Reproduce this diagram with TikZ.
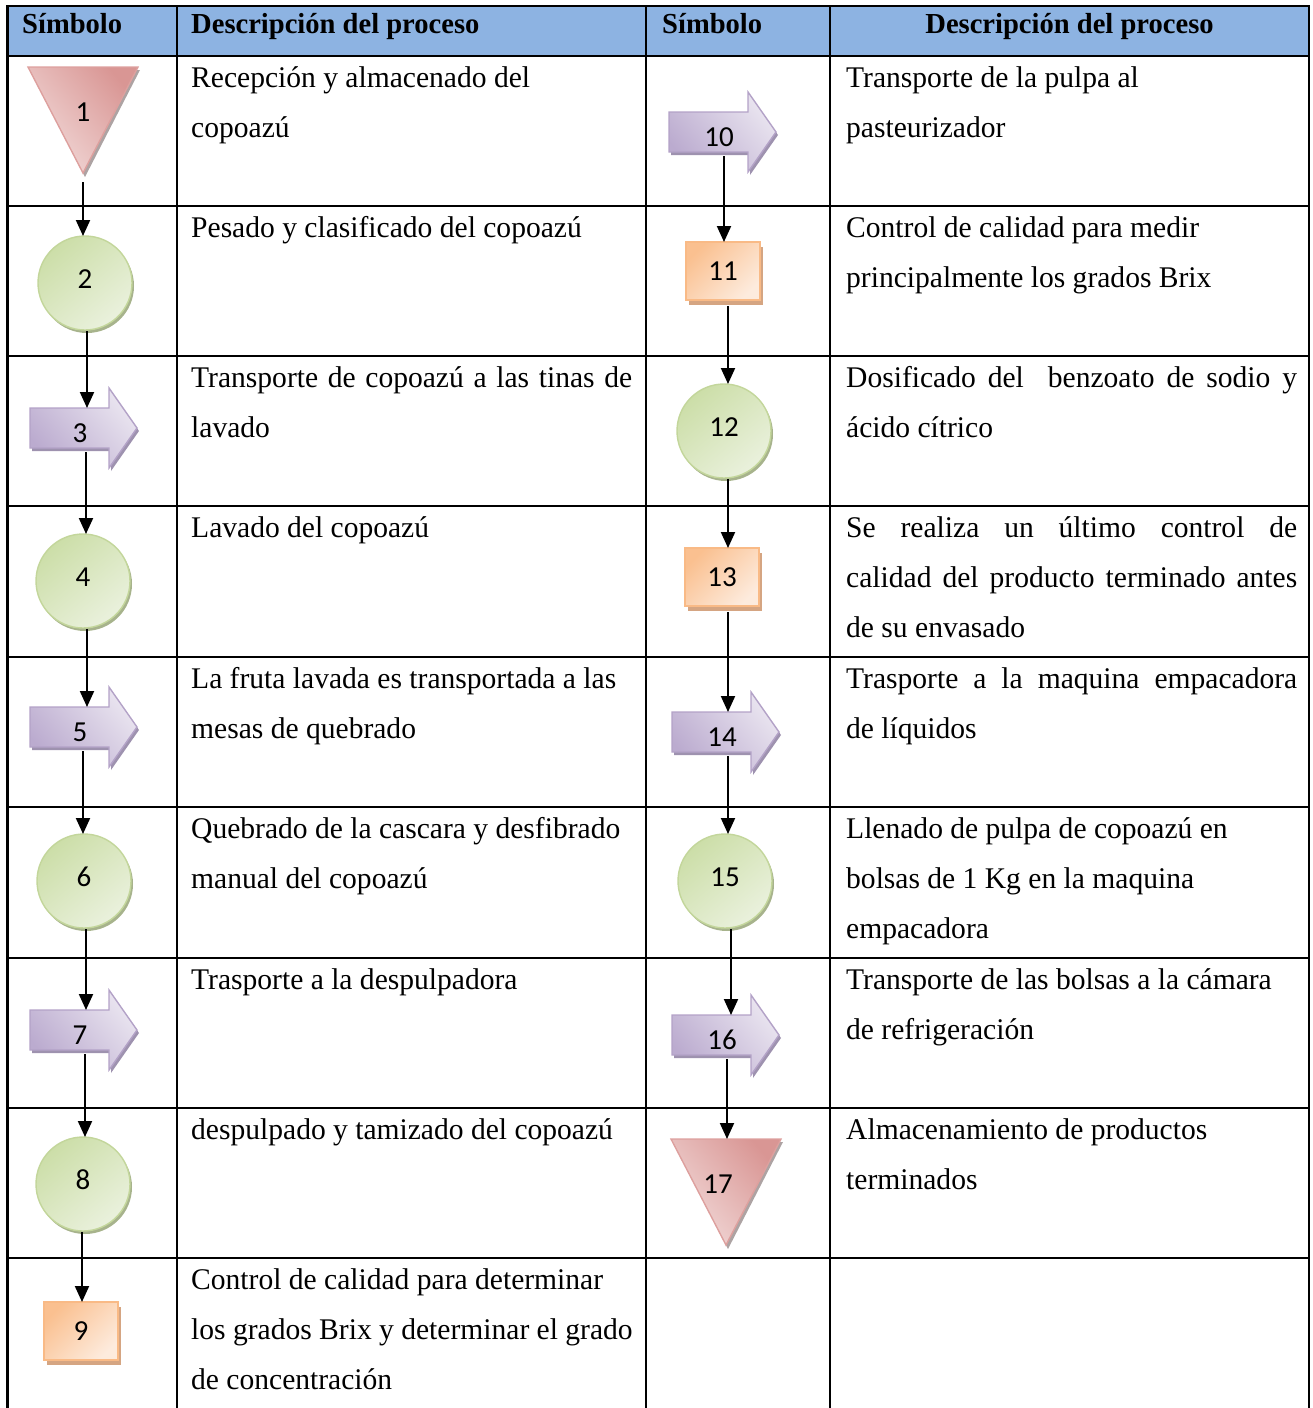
\documentclass[tikz,border=0pt]{standalone}
\usepackage{fontspec}
\setmainfont{Liberation Serif}[FakeStretch=0.985]
\newfontfamily\numfont{Carlito}
\usetikzlibrary{arrows.meta}

\definecolor{hdr}{HTML}{8DB3E2}
\definecolor{triLight}{HTML}{F2DAD9}
\definecolor{triDark}{HTML}{D99694}
\definecolor{triLine}{HTML}{DDA09E}
\definecolor{triShadow}{HTML}{ADA3A3}
\definecolor{cirLight}{HTML}{EAF1DD}
\definecolor{cirDark}{HTML}{CCDEA8}
\definecolor{cirLine}{HTML}{C3D69B}
\definecolor{cirShadow}{HTML}{A7B38C}
\definecolor{boxLight}{HTML}{FDEBDD}
\definecolor{boxDark}{HTML}{FAC090}
\definecolor{boxLine}{HTML}{F9BA86}
\definecolor{boxShadow}{HTML}{D5A582}
\definecolor{arrLight}{HTML}{EAE5F0}
\definecolor{arrDark}{HTML}{BBABCF}
\definecolor{arrLine}{HTML}{B3A2C7}
\definecolor{arrShadow}{HTML}{9E92AF}

% storage triangle: name, centre x, top y, label, label x, out x
\newcommand\symTri[6]{%
  \fill[triShadow] (#2-55+2,#3+3) -- (#2+55+2,#3+3) -- (#2+2,#3+107+3) -- cycle;
  \path[draw=triLine, line width=1.4pt, top color=triDark, bottom color=triLight, shading angle=-50]
    (#2-55,#3) -- (#2+55,#3) -- (#2,#3+106) -- cycle;
  \node[num] (#1) at (#5,#3+45) {#4};
  \coordinate (#1-in) at (#2,#3);
  \coordinate (#1-out) at (#6,#3+115);
}
% operation circle: name, cx, cy, label, out x
\newcommand\symCirc[5]{%
  \fill[cirShadow] (#2+2,#3+3) circle[radius=47pt];
  \path[draw=cirLine, line width=1.4pt, top color=cirDark, bottom color=cirLight, shading angle=40]
    (#2,#3) circle[radius=47pt];
  \node[num] (#1) at (#2,#3-4) {#4};
  \coordinate (#1-in) at (#2,#3-47);
  \coordinate (#1-out) at (#5,#3+48);
}
% inspection box: name, cx, cy, label, out x
\newcommand\symBox[5]{%
  \fill[boxShadow] (#2-37+3,#3-29+5) rectangle (#2+37+3,#3+29+5);
  \path[draw=boxLine, line width=1.4pt, top color=boxDark, bottom color=boxLight, shading angle=45]
    (#2-37,#3-29) rectangle (#2+37,#3+29);
  \node[num] (#1) at (#2,#3) {#4};
  \coordinate (#1-in) at (#2,#3-29);
  \coordinate (#1-out) at (#5,#3+35);
}
% transport arrow: name, shaft left x, tip y, label, out x
\newcommand\symArr[5]{%
  \fill[arrShadow] (#2+2,#3-20+3) -- (#2+79+2,#3-20+3) -- (#2+79+2,#3-40+3) -- (#2+107+2,#3+3)
    -- (#2+79+2,#3+40+3) -- (#2+79+2,#3+20+3) -- (#2+2,#3+20+3) -- cycle;
  \path[draw=arrLine, line width=1.4pt, top color=arrDark, bottom color=arrLight, shading angle=130]
    (#2,#3-20) -- (#2+79,#3-20) -- (#2+79,#3-40) -- (#2+107,#3)
    -- (#2+79,#3+40) -- (#2+79,#3+20) -- (#2,#3+20) -- cycle;
  \node[num] (#1) at (#2+50,#3+5) {#4};
  \coordinate (#1-in) at (#2+56,#3-20);
  \coordinate (#1-out) at (#5,#3+24);
}

\begin{document}
\begin{tikzpicture}[x=1pt,y=-1pt,
  rule/.style={line width=2.2pt, line cap=rect},
  body/.style={anchor=base west, inner sep=0pt, font=\fontsize{30}{36}\selectfont},
  headl/.style={anchor=base west, inner sep=0pt, font=\bfseries\fontsize{29}{34}\selectfont},
  headc/.style={anchor=base, inner sep=0pt, font=\bfseries\fontsize{29}{34}\selectfont},
  num/.style={inner sep=0pt, font=\numfont\fontsize{29}{32}\selectfont},
  flow/.style={line width=2pt, -{Triangle[width=14pt,length=16pt]}}]

\useasboundingbox (0,0) rectangle (1313,1408);

% header band and table rules
\fill[hdr] (7.5,6) rectangle (1309,56);
\foreach \yy in {6,56,206,356,506,657,807,958,1108,1258}
  \draw[rule] (7.5,\yy) -- (1309,\yy);
\foreach \xx in {7.5,177,646,830,1309}
  \draw[line width=2.2pt] (\xx,6) -- (\xx,1408);

% column titles
\node[headl] (h1) at (22,33) {Símbolo};
\node[headl] (h2) at (191,33) {Descripción del proceso};
\node[headl] (h3) at (662,33) {Símbolo};
\node[headc] (h4) at (1069.5,33) {Descripción del proceso};

% process descriptions, left half
\node[body] (d1a) at (191,87) {Recepción y almacenado del};
\node[body] (d1b) at (191,137) {copoazú};
\node[body] (d2a) at (191,237) {Pesado y clasificado del copoazú};
\node[body] (d3a) at (191,387) {\makebox[441pt][s]{Transporte de copoazú a las tinas de}};
\node[body] (d3b) at (191,437) {lavado};
\node[body] (d4a) at (191,537) {Lavado del copoazú};
\node[body] (d5a) at (191,688) {La fruta lavada es transportada a las};
\node[body] (d5b) at (191,738) {mesas de quebrado};
\node[body] (d6a) at (191,838) {Quebrado de la cascara y desfibrado};
\node[body] (d6b) at (191,888) {manual del copoazú};
\node[body] (d7a) at (191,989) {Trasporte a la despulpadora};
\node[body] (d8a) at (191,1139) {despulpado y tamizado del copoazú};
\node[body] (d9a) at (191,1289) {Control de calidad para determinar};
\node[body] (d9b) at (191,1339) {los grados Brix y determinar el grado};
\node[body] (d9c) at (191,1389) {de concentración};

% process descriptions, right half
\node[body] (e1a) at (846,87) {Transporte de la pulpa al};
\node[body] (e1b) at (846,137) {pasteurizador};
\node[body] (e2a) at (846,237) {Control de calidad para medir};
\node[body] (e2b) at (846,287) {principalmente los grados Brix};
\node[body] (e3a) at (846,387) {\makebox[451pt][s]{Dosificado del\ \ benzoato de sodio y}};
\node[body] (e3b) at (846,437) {ácido cítrico};
\node[body] (e4a) at (846,537) {\makebox[451pt][s]{Se realiza un último control de}};
\node[body] (e4b) at (846,587) {\makebox[451pt][s]{calidad del producto terminado antes}};
\node[body] (e4c) at (846,637) {de su envasado};
\node[body] (e5a) at (846,688) {\makebox[451pt][s]{Trasporte a la maquina empacadora}};
\node[body] (e5b) at (846,738) {de líquidos};
\node[body] (e6a) at (846,838) {Llenado de pulpa de copoazú en};
\node[body] (e6b) at (846,888) {bolsas de 1 Kg en la maquina};
\node[body] (e6c) at (846,938) {empacadora};
\node[body] (e7a) at (846,989) {Transporte de las bolsas a la cámara};
\node[body] (e7b) at (846,1039) {de refrigeración};
\node[body] (e8a) at (846,1139) {Almacenamiento de productos};
\node[body] (e8b) at (846,1189) {terminados};

% flow symbols
\symTri{s1}{83}{67}{1}{83}{83}
\symCirc{s2}{85}{283}{2}{87}
\symArr{s3}{30}{428}{3}{86}
\symCirc{s4}{83}{581}{4}{87}
\symArr{s5}{30}{727}{5}{83}
\symCirc{s6}{84}{881}{6}{86}
\symArr{s7}{30}{1030}{7}{85}
\symCirc{s8}{83}{1184}{8}{82}
\symBox{s9}{81}{1331}{9}{81}
\symArr{s10}{669}{132}{10}{724}
\symBox{s11}{723}{271}{11}{728}
\symCirc{s12}{724}{431}{12}{728}
\symBox{s13}{722}{577}{13}{728}
\symArr{s14}{672}{732}{14}{728}
\symCirc{s15}{725}{881}{15}{731}
\symArr{s16}{672}{1035}{16}{727}
\symTri{s17}{726}{1139}{17}{718}{726}

% connectors
\draw[flow] (s1-out) -- (s1-out |- s2-in);
\draw[flow] (s2-out) -- (s2-out |- s3-in);
\draw[flow] (s3-out) -- (s3-out |- s4-in);
\draw[flow] (s4-out) -- (s4-out |- s5-in);
\draw[flow] (s5-out) -- (s5-out |- s6-in);
\draw[flow] (s6-out) -- (s6-out |- s7-in);
\draw[flow] (s7-out) -- (s7-out |- s8-in);
\draw[flow] (s8-out) -- (s8-out |- s9-in);
\draw[flow] (s10-out) -- (s10-out |- s11-in);
\draw[flow] (s11-out) -- (s11-out |- s12-in);
\draw[flow] (s12-out) -- (s12-out |- s13-in);
\draw[flow] (s13-out) -- (s13-out |- s14-in);
\draw[flow] (s14-out) -- (s14-out |- s15-in);
\draw[flow] (s15-out) -- (s15-out |- s16-in);
\draw[flow] (s16-out) -- (s16-out |- s17-in);
\end{tikzpicture}
\end{document}
